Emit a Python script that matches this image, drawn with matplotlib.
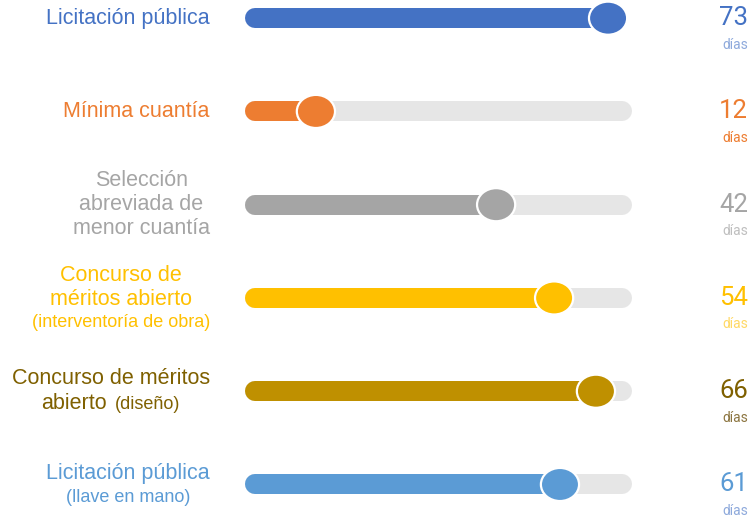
import matplotlib.pyplot as plt
from matplotlib.patches import Ellipse
from matplotlib.offsetbox import TextArea, VPacker, HPacker, AnnotationBbox

# %% Data
procesos = ["Licitación pública",
            "Mínima cuantía",
            "Selección\nabreviada de\nmenor cuantía",
            "Concurso de\nméritos abierto",
            "Concurso de méritos\nabierto",
            "Licitación pública"]
detalle = ["", "", "", "(interventoría de obra)", "(diseño)", "(llave en mano)"]
detalle_en_linea = [False, False, False, False, True, False]
dias = [73, 12, 42, 54, 66, 61]
avance = [96.2, 16.6, 65.7, 81.5, 92.9, 83.1]  # filled share of the track, %

# %% Styles
colores = ["#4472C4", "#ED7D31", "#A5A5A5", "#FFC000", "#BF9000", "#5B9BD5"]
color_texto = ["#4472C4", "#ED7D31", "#A5A5A5", "#FFC000", "#7F6000", "#5B9BD5"]
color_dias = ["#8FAADC", "#ED7D31", "#BFBFBF", "#FFD966", "#8C7540", "#8FAADC"]
con_pista = [False, True, True, True, True, True]
pista = "#E6E6E6"
lw_barra = 14.4  # 20 px

fig = plt.figure(figsize=(7.52, 5.23), dpi=100)
ax = fig.add_axes([0, 0, 1, 1])
ax.set_xlim(-69.48, 135.42)
ax.set_ylim(5.413, -0.195)
ax.axis('off')

for i in range(len(dias)):
    if con_pista[i]:
        ax.plot([0, 100], [i, i], color=pista, lw=lw_barra,
                solid_capstyle='round', zorder=1)
    ax.plot([0, avance[i]], [i, i], color=colores[i], lw=lw_barra,
            solid_capstyle='round', zorder=2)
    ax.add_patch(Ellipse((avance[i], i), width=10.4, height=0.355,
                         facecolor=colores[i], edgecolor='white', lw=1.6,
                         zorder=3))

    # label on the left
    tp = dict(color=color_texto[i], fontsize=15.5, family='Liberation Sans',
              multialignment='center')
    sp = dict(color=color_texto[i], fontsize=13, family='Liberation Sans')
    if detalle[i] == "":
        caja = TextArea(procesos[i], textprops=tp)
    elif detalle_en_linea[i]:
        lineas = procesos[i].split("\n")
        ult = HPacker(children=[TextArea(lineas[-1], textprops=tp),
                                TextArea(detalle[i], textprops=sp)],
                      align='baseline', pad=0, sep=6)
        caja = VPacker(children=[TextArea("\n".join(lineas[:-1]), textprops=tp), ult],
                       align='center', pad=0, sep=3)
    else:
        caja = VPacker(children=[TextArea(procesos[i], textprops=tp),
                                 TextArea(detalle[i], textprops=sp)],
                       align='center', pad=0, sep=3)
    ab = AnnotationBbox(caja, (0.279, i), xycoords=('axes fraction', 'data'),
                        box_alignment=(1, 0.5), frameon=False, pad=0)
    ax.add_artist(ab)

    # value on the right
    ax.annotate(str(dias[i]), xy=(0.956, i), xycoords=('axes fraction', 'data'),
                ha='left', va='center', fontsize=18.5, color=color_texto[i],
                family='Roboto')
    ax.annotate("días", xy=(0.958, i), xycoords=('axes fraction', 'data'),
                xytext=(1.5, -19), textcoords='offset points',
                ha='left', va='center', fontsize=10, color=color_dias[i],
                family='Roboto')

fig.savefig('out.png', dpi=100)
